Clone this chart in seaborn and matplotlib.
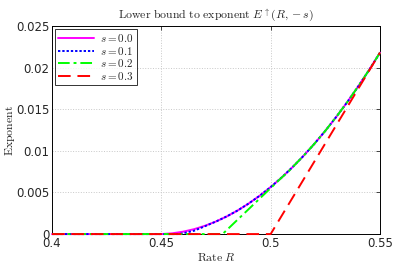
import numpy as np
import pandas as pd
import seaborn as sns
import matplotlib
matplotlib.use("Agg")
import matplotlib.pyplot as plt

# Data
R0 = [0.40, 0.45, 0.455, 0.46, 0.465, 0.47, 0.475, 0.48, 0.485, 0.49, 0.495, 0.50,
      0.505, 0.51, 0.515, 0.52, 0.525, 0.53, 0.535, 0.54, 0.545, 0.55]
E0 = [0.0, 0.0, 0.00009, 0.00029, 0.00059, 0.0010, 0.00151, 0.00213, 0.00285, 0.00368,
      0.00461, 0.00565, 0.00679, 0.00804, 0.00939, 0.01085, 0.01241, 0.01408, 0.01585,
      0.01773, 0.01971, 0.0218]

R1 = [0.40, 0.458, 0.46, 0.465, 0.47, 0.475, 0.48, 0.485, 0.49, 0.495, 0.50,
      0.505, 0.51, 0.515, 0.52, 0.525, 0.53, 0.535, 0.54, 0.545, 0.55]
E1 = [0.0, 0.0, 0.00010, 0.00040, 0.00095, 0.00151, 0.00213, 0.00285, 0.00368,
      0.00461, 0.00565, 0.00679, 0.00804, 0.00939, 0.01085, 0.01241, 0.01408, 0.01585,
      0.01773, 0.01971, 0.0218]

R2 = [0.40, 0.478, 0.485, 0.49, 0.495, 0.50, 0.505, 0.508, 0.51, 0.515, 0.52, 0.525,
      0.53, 0.535, 0.54, 0.545, 0.55]
E2 = [0.0, 0.0, 0.00176, 0.00301, 0.00427, 0.00552, 0.00678, 0.00748, 0.00804, 0.00939,
      0.01085, 0.01241, 0.01408, 0.01585, 0.01773, 0.01971, 0.0218]

R3 = [0.40, 0.50, 0.55]
E3 = [0.0, 0.0, 0.0218]

labels = [r"$s=0.0$", r"$s=0.1$", r"$s=0.2$", r"$s=0.3$"]
colors = ["#ff00ff", "#0000ff", "#00ff00", "#ff0000"]

xticks = [0.4, 0.45, 0.5, 0.55]
xticklabels = ["0.4", "0.45", "0.5", "0.55"]
yticks = [0, 0.005, 0.01, 0.015, 0.02, 0.025]
yticklabels = ["0", "0.005", "0.01", "0.015", "0.02", "0.025"]

sns.set_style("white")
plt.rcParams["font.family"] = ["DejaVu Sans"]
plt.rcParams["mathtext.fontset"] = "cm"

fig = plt.figure(figsize=(3.95, 2.63), dpi=100)
ax = fig.add_axes([0.1316, 0.110, 0.8304, 0.791])

series = [(R0, E0), (R1, E1), (R2, E2), (R3, E3)]
styles = [dict(linestyle="-"), dict(linestyle=(0, (1.2, 1.0))),
          dict(linestyle=(0, (6, 2, 1.5, 2))), dict(linestyle=(0, (6.5, 3.5)))]
for i, ((r, e), lab, c, st) in enumerate(zip(series, labels, colors, styles)):
    df = pd.DataFrame({"R": r, "E": e})
    sns.lineplot(data=df, x="R", y="E", ax=ax, color=c, lw=1.4, label=lab,
                 estimator=None, sort=False, **st)
for ln in ax.get_lines():
    ln.set_clip_on(False)
    ln.set_zorder(5)

ax.set_xlim(0.4, 0.55)
ax.set_ylim(0, 0.025)
ax.set_xticks(xticks)
ax.set_xticklabels(xticklabels, fontsize=8.5)
ax.set_yticks(yticks)
ax.set_yticklabels(yticklabels, fontsize=8.5)
ax.tick_params(direction="in", length=3, width=0.6, top=True, right=True, pad=2)
ax.grid(True, linestyle=":", color="#c8c8c8", lw=0.7)
for sp in ax.spines.values():
    sp.set_color("black")
    sp.set_linewidth(0.7)
    sp.set_zorder(2)

ax.set_title(r"$\mathrm{Lower\ bound\ to\ exponent}\ E^{\uparrow}(R,-s)$", fontsize=8.5, pad=5)
ax.set_xlabel(r"$\mathrm{Rate}\ R$", fontsize=8.5, labelpad=1)
ax.set_ylabel(r"$\mathrm{Exponent}$", fontsize=8.5)
ax.yaxis.set_label_coords(-0.108, 0.5)

leg = ax.legend(loc="upper left", fontsize=8, frameon=True, fancybox=False,
                borderpad=0.25, labelspacing=0.05, handlelength=3.2, handletextpad=0.6,
                borderaxespad=0.3)
leg.get_frame().set_edgecolor("black")
leg.get_frame().set_linewidth(0.7)
leg.set_zorder(10)

fig.savefig("out.png", dpi=100)
